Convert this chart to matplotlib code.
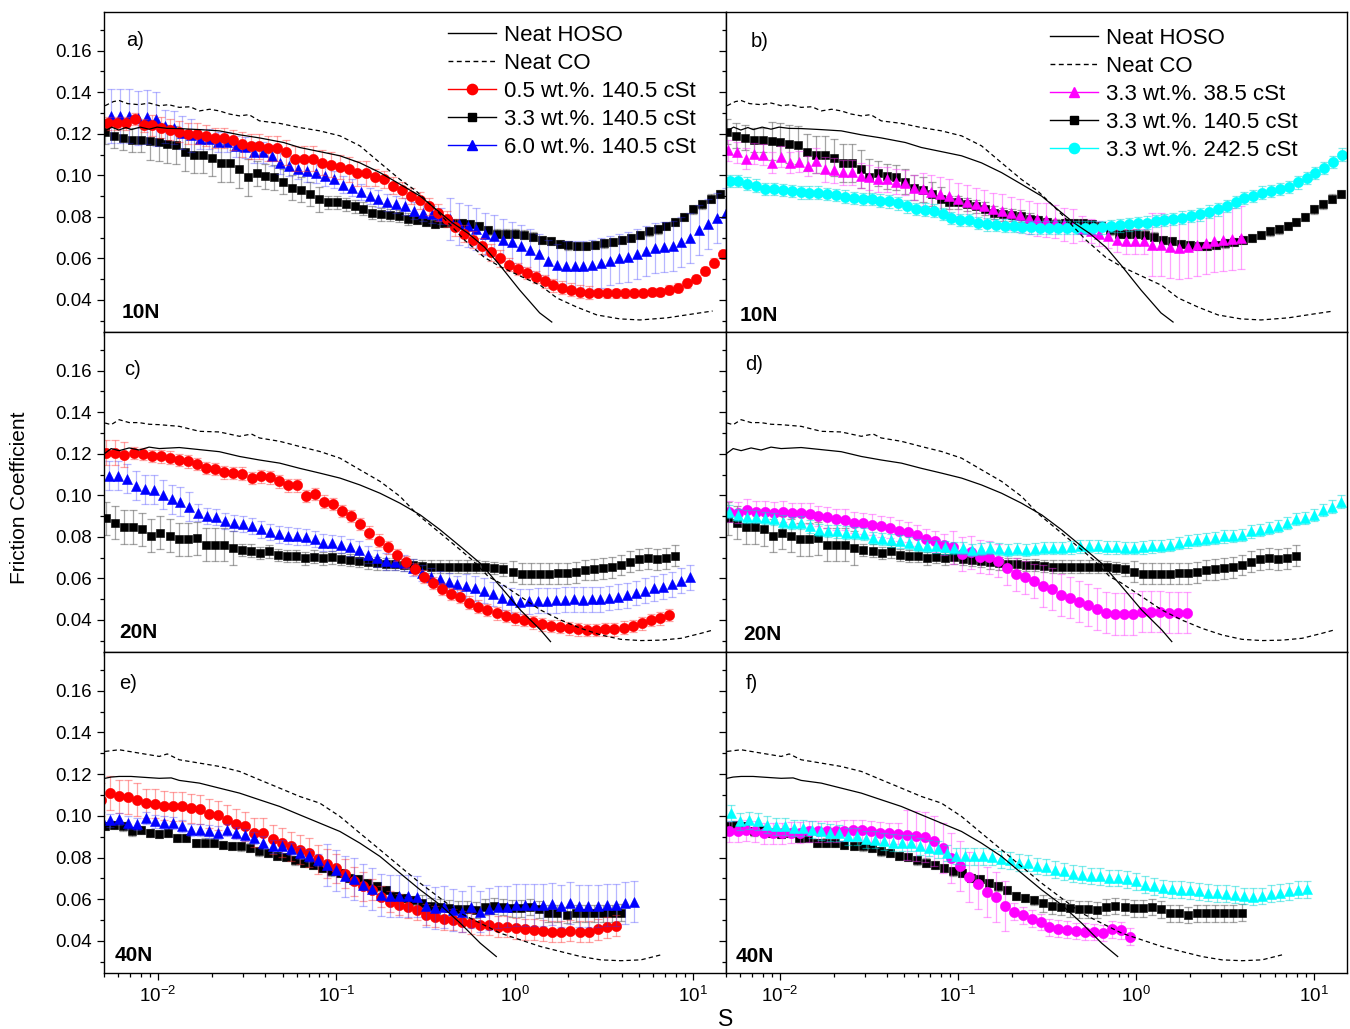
import numpy as np
import matplotlib
matplotlib.use('Agg')
import matplotlib.pyplot as plt
from matplotlib.lines import Line2D
from matplotlib.ticker import (LogLocator, NullFormatter, MultipleLocator,
                               FormatStrFormatter)

plt.rcParams['font.family'] = ['Liberation Sans', 'DejaVu Sans']
plt.rcParams['mathtext.fontset'] = 'custom'
plt.rcParams['mathtext.rm'] = 'Liberation Sans'
plt.rcParams['mathtext.it'] = 'Liberation Sans:italic'
plt.rcParams['mathtext.bf'] = 'Liberation Sans:bold'

# ---------------- neat oil reference curves (log10 S, friction) -------------
hoso1_logS = [-2.297, -2.26, -2.22, -2.18, -2.15, -2.10, -2.05, -2.005, -1.95, -1.881,
              -1.768, -1.656, -1.543, -1.431, -1.296, -1.206, -1.070, -0.980, -0.868,
              -0.755, -0.643, -0.530, -0.418, -0.350, -0.260, -0.169, -0.084, 0.028,
              0.140, 0.208]
hoso1_f = [0.1214, 0.1232, 0.1218, 0.1230, 0.1220, 0.1232, 0.1222, 0.1232, 0.1226, 0.1225,
           0.1220, 0.1214, 0.1195, 0.118, 0.1158, 0.1134, 0.111, 0.1094, 0.106,
           0.1013, 0.0957, 0.0900, 0.082, 0.0772, 0.0720, 0.0654, 0.0568, 0.0448,
           0.0338, 0.0294]
co1_logS = [-2.297, -2.25, -2.218, -2.17, -2.106, -2.05, -1.993, -1.94, -1.881, -1.82,
            -1.768, -1.71, -1.656, -1.60, -1.543, -1.49, -1.431, -1.318, -1.206, -1.093,
            -0.980, -0.868, -0.755, -0.643, -0.553, -0.463, -0.373, -0.283, -0.170,
            -0.080, 0.032, 0.145, 0.236, 0.348, 0.461, 0.590, 0.702, 0.854, 1.000,
            1.110]
co1_f = [0.1335, 0.1355, 0.1360, 0.1345, 0.1340, 0.1348, 0.1335, 0.1340, 0.1327, 0.1330,
         0.1310, 0.1318, 0.1310, 0.1295, 0.1286, 0.1292, 0.1262, 0.125, 0.123, 0.1214,
         0.119, 0.1142, 0.106, 0.098, 0.0925, 0.0852, 0.0772, 0.0690, 0.0605,
         0.0560, 0.0515, 0.0470, 0.0410, 0.0366, 0.0328, 0.0309, 0.0304, 0.0314, 0.0333,
         0.0347]

hoso2_logS = [-2.297, -2.263, -2.218, -2.162, -2.106, -2.05, -1.993, -1.881, -1.768,
              -1.656, -1.543, -1.431, -1.318, -1.206, -1.093, -0.980, -0.868, -0.755,
              -0.643, -0.530, -0.418, -0.305, -0.193, -0.080, 0.032, 0.145, 0.201]
hoso2_f = [0.1203, 0.1225, 0.1215, 0.1228, 0.1218, 0.1232, 0.1225, 0.123, 0.122,
           0.121, 0.1187, 0.117, 0.1155, 0.113, 0.1107, 0.1083, 0.105, 0.101,
           0.0962, 0.0906, 0.0834, 0.0754, 0.0673, 0.0561, 0.0448, 0.0352, 0.0296]
co2_logS = [-2.297, -2.263, -2.218, -2.162, -2.106, -2.05, -1.993, -1.881, -1.768,
            -1.656, -1.543, -1.476, -1.431, -1.318, -1.206, -1.093, -0.980, -0.868,
            -0.755, -0.643, -0.553, -0.463, -0.350, -0.238, -0.148, -0.080, 0.032,
            0.145, 0.257, 0.370, 0.483, 0.595, 0.708, 0.820, 0.933, 1.045, 1.113]
co2_f = [0.1348, 0.1340, 0.1364, 0.1350, 0.1350, 0.1342, 0.134, 0.1332, 0.1308,
         0.1305, 0.1284, 0.1295, 0.1276, 0.126, 0.1235, 0.1211, 0.1179, 0.1123,
         0.1067, 0.0995, 0.0914, 0.085, 0.077, 0.0689, 0.0609, 0.0577, 0.0513,
         0.0448, 0.040, 0.036, 0.0328, 0.0307, 0.0301, 0.0303, 0.0312, 0.0336, 0.0352]

hoso3_logS = [-2.297, -2.263, -2.218, -2.151, -2.083, -1.993, -1.926, -1.881, -1.768,
              -1.656, -1.543, -1.431, -1.318, -1.206, -1.093, -0.980, -0.868, -0.755,
              -0.643, -0.530, -0.418, -0.305, -0.193, -0.103]
hoso3_f = [0.118, 0.1186, 0.1189, 0.1189, 0.1185, 0.118, 0.1182, 0.117, 0.1157,
           0.1133, 0.1109, 0.1077, 0.1045, 0.1005, 0.0965, 0.0925, 0.0869, 0.0805,
           0.0725, 0.0645, 0.0573, 0.0485, 0.0389, 0.0325]
co3_logS = [-2.297, -2.218, -2.106, -1.993, -1.948, -1.881, -1.768, -1.656, -1.543,
            -1.431, -1.318, -1.206, -1.093, -0.980, -0.868, -0.755, -0.643, -0.530,
            -0.418, -0.305, -0.193, -0.080, 0.032, 0.145, 0.257, 0.370, 0.483, 0.595,
            0.708, 0.820]
co3_f = [0.1309, 0.1317, 0.1301, 0.1285, 0.1297, 0.1269, 0.1253, 0.1237, 0.1213,
         0.1173, 0.1133, 0.1093, 0.1061, 0.0997, 0.0917, 0.0837, 0.0757, 0.0677,
         0.0605, 0.0533, 0.0485, 0.0437, 0.0405, 0.0373, 0.0349, 0.0325, 0.0309, 0.0305,
         0.0309, 0.0333]

# ---------------- nanoparticle blends (friction at log-spaced S) ------------
# panel a: 10N
red_a_range = (-2.281, 1.167)
red_a = [0.125, 0.125, 0.125, 0.127, 0.124, 0.124, 0.123, 0.122, 0.121, 0.120,
         0.120, 0.119, 0.118, 0.118, 0.117, 0.115, 0.114, 0.114, 0.113, 0.113,
         0.111, 0.108, 0.108, 0.108, 0.106, 0.105, 0.104, 0.103, 0.101, 0.101,
         0.099, 0.098, 0.095, 0.093, 0.090, 0.088, 0.085, 0.082, 0.079, 0.075,
         0.072, 0.069, 0.066, 0.063, 0.060, 0.057, 0.055, 0.053, 0.051, 0.049,
         0.047, 0.046, 0.045, 0.044, 0.0435, 0.0433, 0.0432, 0.0432, 0.0432, 0.0433,
         0.0435, 0.0437, 0.044, 0.045, 0.046, 0.048, 0.050, 0.054, 0.058, 0.062]
red_a_err = [(5, 3), (10, 5), (15, 6), (15, 4), (10, 3), (15, 2)]

black_10_range = (-2.297, 1.151)
black_10 = [0.121, 0.119, 0.118, 0.117, 0.117, 0.1165, 0.116, 0.115, 0.1145, 0.111,
            0.110, 0.110, 0.1085, 0.106, 0.106, 0.103, 0.099, 0.101, 0.0995, 0.099,
            0.097, 0.094, 0.093, 0.091, 0.0885, 0.087, 0.087, 0.086, 0.085, 0.084,
            0.082, 0.0812, 0.081, 0.0805, 0.079, 0.0785, 0.0775, 0.0768, 0.077, 0.0772,
            0.077, 0.0765, 0.0755, 0.0735, 0.072, 0.072, 0.072, 0.0715, 0.0705, 0.069,
            0.0685, 0.0668, 0.0663, 0.066, 0.066, 0.0665, 0.0672, 0.068, 0.069, 0.070,
            0.0712, 0.073, 0.074, 0.0755, 0.0777, 0.080, 0.0836, 0.086, 0.0888, 0.091]
black_10_err = [(5, 6), (12, 9), (8, 6), (10, 3), (35, 2)]

blue_a_range = (-2.263, 1.185)
blue_a = [0.1285, 0.1285, 0.1285, 0.1275, 0.128, 0.127, 0.1235, 0.123, 0.1205, 0.1193,
          0.1175, 0.1175, 0.116, 0.116, 0.114, 0.1134, 0.111, 0.111, 0.1094, 0.1058,
          0.1045, 0.103, 0.102, 0.1013, 0.0997, 0.098, 0.0955, 0.094, 0.092, 0.090,
          0.0888, 0.087, 0.086, 0.085, 0.083, 0.082, 0.0812, 0.0805, 0.079, 0.0765,
          0.0755, 0.0742, 0.0718, 0.071, 0.069, 0.0677, 0.066, 0.064, 0.062, 0.059,
          0.057, 0.0566, 0.0566, 0.0566, 0.0568, 0.058, 0.059, 0.060, 0.0605, 0.062,
          0.0635, 0.065, 0.0656, 0.066, 0.068, 0.070, 0.0735, 0.0765, 0.0795, 0.082]
blue_a_err = [(6, 13), (4, 8), (15, 5), (13, 4), (13, 10), (19, 12)]

# panel b: 10N
mag_b_range = (-2.292, 0.589)
mag_b = [0.112, 0.111, 0.108, 0.1105, 0.110, 0.106, 0.109, 0.106, 0.1065, 0.1045,
         0.107, 0.103, 0.1025, 0.1015, 0.1015, 0.0997, 0.099, 0.098, 0.098, 0.097,
         0.0965, 0.094, 0.0933, 0.092, 0.091, 0.090, 0.0884, 0.0872, 0.086, 0.085,
         0.0836, 0.0828, 0.0817, 0.0807, 0.0796, 0.0788, 0.0785, 0.0777, 0.0764, 0.0756,
         0.0743, 0.0732, 0.072, 0.071, 0.069, 0.0683, 0.0683, 0.0683, 0.0667, 0.0667,
         0.0654, 0.0651, 0.0656, 0.0667, 0.0675, 0.0683, 0.069, 0.0695, 0.070]
mag_b_err = [(10, 5), (12, 6), (18, 8), (8, 6), (11, 15)]

cyan_b_range = (-2.283, 1.157)
cyan_b = [0.0973, 0.0973, 0.096, 0.095, 0.0935, 0.0933, 0.093, 0.0925, 0.0918, 0.0917,
          0.0917, 0.091, 0.0905, 0.0898, 0.089, 0.0885, 0.0886, 0.0878, 0.0875, 0.0865,
          0.085, 0.0837, 0.0835, 0.083, 0.0815, 0.0795, 0.0785, 0.0785, 0.077, 0.0764,
          0.0762, 0.0758, 0.0755, 0.0752, 0.0749, 0.0748, 0.0748, 0.0748, 0.0748, 0.0748,
          0.0748, 0.0748, 0.075, 0.0756, 0.0759, 0.0764, 0.0769, 0.0772, 0.078, 0.0785,
          0.0791, 0.0796, 0.0804, 0.0812, 0.0825, 0.0836, 0.0852, 0.0872, 0.0892, 0.090,
          0.0917, 0.0925, 0.0933, 0.0945, 0.0966, 0.0987, 0.101, 0.1035, 0.1065, 0.110]
cyan_b_err = [(70, 3)]

# panel c: 20N
red_c_range = (-2.290, 0.865)
red_c = [0.1206, 0.1206, 0.1195, 0.1203, 0.120, 0.119, 0.1187, 0.1182, 0.1171, 0.1163,
         0.115, 0.1131, 0.1126, 0.111, 0.1107, 0.1104, 0.1083, 0.1091, 0.1086, 0.1067,
         0.1048, 0.1048, 0.0998, 0.1006, 0.097, 0.0958, 0.0925, 0.0901, 0.0861, 0.0821,
         0.0782, 0.075, 0.0713, 0.0678, 0.0646, 0.0609, 0.0577, 0.0548, 0.0526, 0.0513,
         0.0484, 0.0464, 0.0448, 0.0432, 0.042, 0.0408, 0.040, 0.0389, 0.0379, 0.0371,
         0.0368, 0.036, 0.0355, 0.0352, 0.0352, 0.0355, 0.0355, 0.0363, 0.0371, 0.0384,
         0.040, 0.0408, 0.0424]
red_c_err = [(3, 6), (60, 3)]

blue_c_range = (-2.275, 0.982)
blue_c = [0.1094, 0.1094, 0.108, 0.1046, 0.103, 0.1027, 0.1003, 0.098, 0.097, 0.0945,
          0.0916, 0.090, 0.0895, 0.0876, 0.0867, 0.0862, 0.0852, 0.0836, 0.0823, 0.0812,
          0.0806, 0.0802, 0.0799, 0.0789, 0.0772, 0.077, 0.0762, 0.075, 0.0738, 0.0715,
          0.0697, 0.0683, 0.068, 0.0674, 0.0652, 0.0626, 0.0608, 0.0597, 0.0585, 0.0573,
          0.0563, 0.0553, 0.054, 0.0525, 0.0508, 0.0495, 0.0489, 0.049, 0.0493, 0.0493,
          0.0496, 0.0498, 0.050, 0.0498, 0.050, 0.050, 0.0506, 0.0513, 0.052, 0.053,
          0.054, 0.0553, 0.056, 0.0572, 0.059, 0.0605]
blue_c_err = [(10, 7), (30, 4), (26, 6)]

black_20_range = (-2.290, 0.899)
black_20 = [0.089, 0.0869, 0.0847, 0.0847, 0.0837, 0.0805, 0.0821, 0.0805, 0.0789, 0.0789,
            0.0794, 0.0762, 0.0762, 0.0762, 0.0746, 0.0738, 0.0734, 0.0722, 0.073, 0.0714,
            0.0709, 0.0709, 0.0697, 0.0705, 0.0697, 0.0701, 0.0693, 0.0689, 0.0686, 0.0677,
            0.0673, 0.067, 0.067, 0.0665, 0.0665, 0.0661, 0.0657, 0.0657, 0.0657, 0.0657,
            0.0657, 0.0657, 0.0654, 0.0649, 0.0644, 0.0633, 0.0622, 0.0622, 0.0622, 0.0622,
            0.0625, 0.0625, 0.063, 0.0641, 0.0644, 0.0649, 0.0654, 0.0665, 0.0681, 0.0693,
            0.0697, 0.0693, 0.0697, 0.0709]
black_20_err = [(15, 8), (30, 3), (19, 5)]

# panel d: 20N
mag_d_range = (-2.288, 0.285)
mag_d = [0.0922, 0.0917, 0.093, 0.0922, 0.0922, 0.0917, 0.0922, 0.0914, 0.0914, 0.0911,
         0.0901, 0.0895, 0.0885, 0.0882, 0.0869, 0.0866, 0.0858, 0.085, 0.0845, 0.0829,
         0.0823, 0.0807, 0.0789, 0.0778, 0.0762, 0.075, 0.0718, 0.0725, 0.0705, 0.0702,
         0.0685, 0.0649, 0.062, 0.0606, 0.0588, 0.0564, 0.0548, 0.0521, 0.0508, 0.0489,
         0.0473, 0.0452, 0.0436, 0.0429, 0.0428, 0.0428, 0.044, 0.044, 0.044, 0.0436,
         0.0436, 0.0436]
mag_d_err = [(25, 5), (10, 8), (17, 10)]

cyan_d_range = (-2.288, 1.151)
cyan_d = [0.0922, 0.0906, 0.0898, 0.0898, 0.089, 0.0885, 0.0874, 0.0866, 0.0869, 0.085,
          0.0834, 0.0829, 0.0826, 0.0821, 0.0818, 0.0815, 0.0794, 0.0789, 0.0783, 0.0778,
          0.077, 0.0762, 0.0757, 0.0754, 0.075, 0.0746, 0.0746, 0.0738, 0.0741, 0.0746,
          0.0741, 0.0738, 0.0741, 0.0738, 0.0741, 0.0746, 0.0746, 0.0746, 0.075, 0.0754,
          0.0757, 0.0754, 0.075, 0.075, 0.0746, 0.0746, 0.075, 0.0754, 0.0757, 0.0762,
          0.077, 0.0778, 0.0786, 0.0789, 0.0794, 0.0802, 0.0805, 0.081, 0.0826, 0.0834,
          0.0842, 0.0853, 0.0866, 0.0885, 0.089, 0.0906, 0.093, 0.0946, 0.097]
cyan_d_err = [(69, 3)]

# panel e: 40N
red_e_range = (-2.320, 0.566)
red_e = [0.1077, 0.1109, 0.1093, 0.109, 0.1077, 0.1061, 0.1058, 0.1048, 0.1045, 0.1045,
         0.1037, 0.1032, 0.101, 0.1002, 0.0981, 0.0962, 0.0949, 0.092, 0.092, 0.0888,
         0.0872, 0.0853, 0.0837, 0.0824, 0.0792, 0.077, 0.0749, 0.0722, 0.0685, 0.0661,
         0.0645, 0.0613, 0.0589, 0.0573, 0.0562, 0.0549, 0.0525, 0.0517, 0.0504, 0.0501,
         0.0493, 0.0485, 0.0477, 0.0477, 0.0469, 0.0469, 0.0461, 0.0456, 0.0453, 0.0448,
         0.0445, 0.0445, 0.0448, 0.0445, 0.0445, 0.0456, 0.0466, 0.0472]
red_e_err = [(5, 8), (25, 7), (28, 5)]

blue_e_range = (-2.320, 0.667)
blue_e = [0.0989, 0.0978, 0.0984, 0.0968, 0.0962, 0.0989, 0.0973, 0.0968, 0.0965, 0.0952,
          0.0933, 0.0933, 0.0925, 0.092, 0.0933, 0.0917, 0.0909, 0.0893, 0.0872, 0.0853,
          0.0853, 0.084, 0.0821, 0.0808, 0.0789, 0.0765, 0.0738, 0.0709, 0.0696, 0.0669,
          0.0648, 0.0621, 0.0616, 0.0616, 0.0616, 0.0613, 0.0568, 0.0557, 0.0562, 0.0549,
          0.0541, 0.0562, 0.0541, 0.0552, 0.0562, 0.0565, 0.0573, 0.0573, 0.0573, 0.0573,
          0.0578, 0.0568, 0.0581, 0.0568, 0.0568, 0.0568, 0.0573, 0.0573, 0.0581, 0.0589]
blue_e_err = [(25, 3), (35, 10)]

black_40_range = (-2.297, 0.595)
black_40 = [0.0952, 0.0957, 0.0949, 0.0925, 0.0933, 0.0917, 0.0912, 0.0917, 0.0893, 0.0893,
            0.0869, 0.0872, 0.0872, 0.0861, 0.0856, 0.0853, 0.0848, 0.0829, 0.0821, 0.0808,
            0.0802, 0.0786, 0.0776, 0.0765, 0.0749, 0.0733, 0.0725, 0.0701, 0.0696, 0.0677,
            0.0661, 0.0645, 0.0616, 0.0605, 0.0594, 0.0581, 0.0568, 0.0562, 0.0557, 0.0552,
            0.0552, 0.0549, 0.0562, 0.0568, 0.0562, 0.0557, 0.0557, 0.0562, 0.0552, 0.0533,
            0.0533, 0.0525, 0.0533, 0.0533, 0.0533, 0.0533, 0.0533, 0.0536]
black_40_err = [(35, 2), (23, 4)]

# panel f: 40N
mag_f_range = (-2.288, -0.036)
mag_f = [0.0925, 0.0925, 0.093, 0.0925, 0.0917, 0.0917, 0.0917, 0.092, 0.092, 0.0925,
         0.0925, 0.0925, 0.0925, 0.0928, 0.093, 0.093, 0.0925, 0.092, 0.0917, 0.0914,
         0.091, 0.0905, 0.0898, 0.088, 0.0845, 0.080, 0.0757, 0.0705, 0.0675, 0.0635,
         0.061, 0.0568, 0.054, 0.0522, 0.0507, 0.049, 0.0465, 0.0458, 0.0454, 0.0448,
         0.0445, 0.0442, 0.0438, 0.0455, 0.045, 0.0421]
mag_f_err = [(20, 5), (12, 12), (14, 4)]

cyan_f_range = (-2.276, 0.960)
cyan_f = [0.1013, 0.0973, 0.0978, 0.0973, 0.0957, 0.0949, 0.0949, 0.0941, 0.0941, 0.0933,
          0.0925, 0.092, 0.0917, 0.0901, 0.0901, 0.0888, 0.0885, 0.0877, 0.0872, 0.0869,
          0.0869, 0.0853, 0.0845, 0.084, 0.0821, 0.0808, 0.0805, 0.0805, 0.0805, 0.0802,
          0.0792, 0.0786, 0.0776, 0.0773, 0.076, 0.0754, 0.0741, 0.0733, 0.0722, 0.0717,
          0.0712, 0.0709, 0.0701, 0.0701, 0.0696, 0.0685, 0.0669, 0.0661, 0.0653, 0.0648,
          0.0645, 0.0642, 0.0637, 0.0632, 0.0629, 0.0626, 0.0621, 0.0616, 0.0613, 0.0616,
          0.0626, 0.0632, 0.0637, 0.0645, 0.0648]
cyan_f_err = [(65, 4)]

panel_letters = ['a)', 'b)', 'c)', 'd)', 'e)', 'f)']
loads = ['10N', '10N', '20N', '20N', '40N', '40N']
legend_left = ['Neat HOSO', 'Neat CO', '0.5 wt.%. 140.5 cSt', '3.3 wt.%. 140.5 cSt',
               '6.0 wt.%. 140.5 cSt']
legend_right = ['Neat HOSO', 'Neat CO', '3.3 wt.%. 38.5 cSt', '3.3 wt.%. 140.5 cSt',
                '3.3 wt.%. 242.5 cSt']

# ---------------- styles -----------------------------------------------------
RED, BLACK, BLUE, MAG, CYAN = '#FF0000', '#000000', '#0000FF', '#FF00FF', '#00FFFF'
ECOL = {RED: (1, 0.2, 0.2, 0.45), BLACK: (0.3, 0.3, 0.3, 0.5), BLUE: (0.2, 0.2, 1, 0.35),
        MAG: (1, 0.2, 1, 0.45), CYAN: (0.0, 0.85, 0.85, 0.5)}
MS = {'o': 7.4, 's': 6.4, '^': 7.9}
DASH = (0, (3.5, 2.5))


def expand(runs, n):
    out = []
    for c, v in runs:
        out += [v] * c
    out = (out + [out[-1]] * n)[:n]
    return np.array(out) * 0.001


def series(ax, rng, vals, err, color, marker, z):
    x = np.logspace(rng[0], rng[1], len(vals))
    y = np.array(vals)
    e = expand(err, len(vals))
    ax.errorbar(x, y, yerr=e, fmt='none', ecolor=ECOL[color], elinewidth=0.9,
                capsize=3, capthick=0.9, zorder=z)
    ax.plot(x, y, linestyle='none', marker=marker, ms=MS[marker], color=color,
            mec=color, mew=0.4, zorder=z + 0.5)


def neat(ax, hl, hf, cl, cf):
    ax.plot(10 ** np.array(hl), hf, color='black', lw=0.9, zorder=10)
    ax.plot(10 ** np.array(cl), cf, color='black', lw=0.9, ls=DASH, zorder=10)


fig = plt.figure(figsize=(13.5, 10.29), dpi=100)
W, H = 1350.0, 1029.0
cols = [(104, 726), (726, 1347)]
rows = [(12, 332), (332, 652), (652, 973)]
axes = []
for r, (yt, yb) in enumerate(rows):
    for c, (xl, xr) in enumerate(cols):
        ax = fig.add_axes([xl / W, 1 - yb / H, (xr - xl) / W, (yb - yt) / H])
        axes.append(ax)

for k, ax in enumerate(axes):
    r, c = divmod(k, 2)
    ax.set_xscale('log')
    ax.set_xlim(10 ** -2.303, 10 ** 1.185)
    ax.set_ylim(0.0246, 0.1786)
    ax.yaxis.set_major_locator(MultipleLocator(0.02))
    ax.yaxis.set_minor_locator(MultipleLocator(0.01))
    ax.yaxis.set_major_formatter(FormatStrFormatter('%.2f'))
    ax.xaxis.set_major_locator(LogLocator(base=10, numticks=10))
    ax.xaxis.set_minor_locator(LogLocator(base=10, subs=np.arange(2, 10), numticks=10))
    ax.xaxis.set_minor_formatter(NullFormatter())
    ax.tick_params(which='both', direction='out', top=False, right=False,
                   labelsize=13.5, width=0.9, pad=4)
    ax.tick_params(which='major', length=5)
    ax.tick_params(which='minor', length=3)
    if r < 2:
        ax.tick_params(labelbottom=False)
    if c == 1:
        ax.tick_params(labelleft=False)
    for s in ax.spines.values():
        s.set_linewidth(1.0)
        s.set_zorder(20)

# row 1
ax = axes[0]
series(ax, black_10_range, black_10, black_10_err, BLACK, 's', 3)
series(ax, blue_a_range, blue_a, blue_a_err, BLUE, '^', 4)
series(ax, red_a_range, red_a, red_a_err, RED, 'o', 5)
neat(ax, hoso1_logS, hoso1_f, co1_logS, co1_f)
ax = axes[1]
series(ax, black_10_range, black_10, black_10_err, BLACK, 's', 3)
series(ax, mag_b_range, mag_b, mag_b_err, MAG, '^', 4)
series(ax, cyan_b_range, cyan_b, cyan_b_err, CYAN, 'o', 5)
neat(ax, hoso1_logS, hoso1_f, co1_logS, co1_f)
# row 2
ax = axes[2]
series(ax, black_20_range, black_20, black_20_err, BLACK, 's', 3)
series(ax, blue_c_range, blue_c, blue_c_err, BLUE, '^', 4)
series(ax, red_c_range, red_c, red_c_err, RED, 'o', 5)
neat(ax, hoso2_logS, hoso2_f, co2_logS, co2_f)
ax = axes[3]
series(ax, black_20_range, black_20, black_20_err, BLACK, 's', 3)
series(ax, mag_d_range, mag_d, mag_d_err, MAG, 'o', 4)
series(ax, cyan_d_range, cyan_d, cyan_d_err, CYAN, '^', 5)
neat(ax, hoso2_logS, hoso2_f, co2_logS, co2_f)
# row 3
ax = axes[4]
series(ax, black_40_range, black_40, black_40_err, BLACK, 's', 3)
series(ax, red_e_range, red_e, red_e_err, RED, 'o', 4)
series(ax, blue_e_range, blue_e, blue_e_err, BLUE, '^', 5)
neat(ax, hoso3_logS, hoso3_f, co3_logS, co3_f)
ax = axes[5]
series(ax, black_40_range, black_40, black_40_err, BLACK, 's', 3)
series(ax, mag_f_range, mag_f, mag_f_err, MAG, 'o', 4)
series(ax, cyan_f_range, cyan_f, cyan_f_err, CYAN, '^', 5)
neat(ax, hoso3_logS, hoso3_f, co3_logS, co3_f)

# panel letters and loads
letter_pos = [(0.036, 0.912), (0.040, 0.908), (0.032, 0.884), (0.031, 0.900),
              (0.024, 0.902), (0.031, 0.902)]
load_pos = [(0.029, 0.061), (0.0225, 0.052), (0.024, 0.061), (0.0274, 0.055),
            (0.0177, 0.0545), (0.016, 0.05)]
for k, ax in enumerate(axes):
    ax.text(*letter_pos[k], panel_letters[k], transform=ax.transAxes, fontsize=14.5,
            ha='left', va='center')
    ax.text(*load_pos[k], loads[k], transform=ax.transAxes, fontsize=15,
            fontweight='bold', ha='left', va='center')


def handles(specs):
    hs = []
    for col, ls, mk in specs:
        hs.append(Line2D([], [], color=col, ls=ls, lw=1.0, marker=mk,
                         ms=MS.get(mk, 0) if mk else 0, mec=col))
    return hs


left_specs = [('black', '-', None), ('black', DASH, None), (RED, '-', 'o'),
              (BLACK, '-', 's'), (BLUE, '-', '^')]
right_specs = [('black', '-', None), ('black', DASH, None), (MAG, '-', '^'),
               (BLACK, '-', 's'), (CYAN, '-', 'o')]
for ax, specs, labels, anchor in [(axes[0], left_specs, legend_left, (0.553, 0.959)),
                                  (axes[1], right_specs, legend_right, (0.522, 0.950))]:
    ax.legend(handles(specs), labels, loc='upper left', bbox_to_anchor=anchor,
              frameon=False, fontsize=16, handlelength=2.15, handletextpad=0.35,
              labelspacing=0.31, borderpad=0, borderaxespad=0)

fig.text(20 / W, 1 - 498 / H, 'Friction Coefficient', rotation=90, ha='center',
         va='center', fontsize=15)
fig.text(726 / W, 1 - 1020 / H, 'S', ha='center', va='center', fontsize=16.5)

fig.savefig('out.png', dpi=100)
